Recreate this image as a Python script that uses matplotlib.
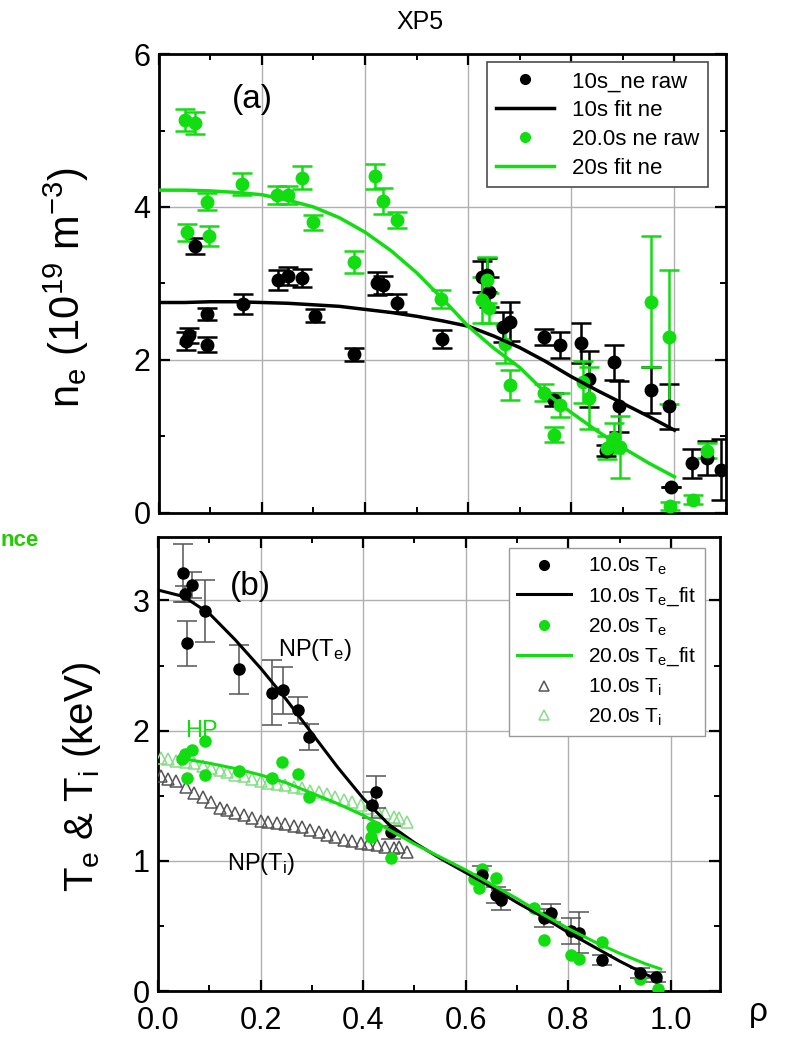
import matplotlib
matplotlib.use("Agg")
import matplotlib.pyplot as plt
from matplotlib.ticker import MultipleLocator, FormatStrFormatter
from matplotlib.lines import Line2D

plt.rcParams['font.family'] = ['Liberation Sans', 'DejaVu Sans']
plt.rcParams['mathtext.fontset'] = 'custom'
plt.rcParams['mathtext.rm'] = 'Liberation Sans'
plt.rcParams['mathtext.it'] = 'Liberation Sans:italic'
plt.rcParams['mathtext.bf'] = 'Liberation Sans:bold'

GREEN = '#11dd11'
LGREEN = '#88dd88'
GRAY = '#555555'

# --- (a) density: 10 s raw ---
ne10_rho = [0.053, 0.058, 0.070, 0.093, 0.093, 0.163, 0.231, 0.250, 0.278, 0.303,
            0.379, 0.423, 0.435, 0.462, 0.549, 0.627, 0.637, 0.641, 0.668, 0.682,
            0.748, 0.779, 0.819, 0.767, 0.835, 0.882, 0.893, 0.868, 0.955, 0.990,
            0.994, 1.035, 1.064, 1.090]
ne10_val = [2.25, 2.32, 3.49, 2.60, 2.20, 2.73, 3.05, 3.10, 3.07, 2.58,
            2.07, 3.00, 2.98, 2.74, 2.27, 3.09, 3.11, 2.89, 2.43, 2.50,
            2.30, 2.20, 2.22, 1.48, 1.75, 1.97, 1.39, 0.81, 1.61, 1.39,
            0.34, 0.65, 0.72, 0.56]
ne10_err = [0.12, 0.10, 0.10, 0.08, 0.10, 0.13, 0.13, 0.12, 0.12, 0.08,
            0.09, 0.15, 0.12, 0.12, 0.12, 0.20, 0.22, 0.20, 0.20, 0.26,
            0.10, 0.17, 0.26, 0.08, 0.37, 0.23, 0.33, 0.07, 0.30, 0.30,
            0.00, 0.19, 0.22, 0.40]

# --- (a) density: 20 s raw ---
ne20_rho = [0.050, 0.070, 0.054, 0.097, 0.093, 0.161, 0.229, 0.250, 0.277, 0.300,
            0.379, 0.420, 0.435, 0.462, 0.547, 0.627, 0.637, 0.641, 0.672, 0.682,
            0.748, 0.779, 0.767, 0.823, 0.835, 0.870, 0.882, 0.895, 0.955, 0.990,
            0.992, 1.036, 1.064]
ne20_val = [5.14, 5.10, 3.67, 3.62, 4.07, 4.30, 4.16, 4.16, 4.38, 3.80,
            3.28, 4.40, 4.08, 3.83, 2.80, 2.78, 3.05, 2.68, 2.21, 1.67,
            1.57, 1.41, 1.02, 1.71, 1.50, 0.85, 0.98, 0.86, 2.76, 2.30,
            0.09, 0.17, 0.81]
ne20_err = [0.14, 0.14, 0.11, 0.13, 0.11, 0.14, 0.12, 0.12, 0.15, 0.10,
            0.14, 0.16, 0.17, 0.11, 0.12, 0.30, 0.30, 0.20, 0.25, 0.20,
            0.11, 0.16, 0.10, 0.27, 0.40, 0.15, 0.20, 0.40, 0.86, 0.88,
            0.05, 0.06, 0.10]

# --- (a) fits ---
fit_rho = [0.0, 0.05, 0.1, 0.15, 0.2, 0.25, 0.3, 0.35, 0.4, 0.45, 0.5,
           0.55, 0.6, 0.65, 0.7, 0.75, 0.8, 0.85, 0.9, 0.95, 1.0]
ne10_fit = [2.75, 2.75, 2.76, 2.76, 2.75, 2.74, 2.72, 2.70, 2.66, 2.62, 2.57,
            2.51, 2.44, 2.31, 2.16, 1.98, 1.78, 1.60, 1.43, 1.26, 1.08]
ne20_fit = [4.22, 4.22, 4.21, 4.19, 4.16, 4.09, 4.00, 3.86, 3.67, 3.43, 3.14,
            2.80, 2.44, 2.15, 1.90, 1.57, 1.31, 1.07, 0.85, 0.65, 0.47]

# --- (b) Te 10 s ---
te10_rho = [0.049, 0.053, 0.066, 0.057, 0.092, 0.158, 0.222, 0.244, 0.273, 0.294,
            0.417, 0.425, 0.454, 0.632, 0.659, 0.668, 0.752, 0.766, 0.805, 0.820,
            0.866, 0.940, 0.970]
te10_val = [3.21, 3.05, 3.12, 2.67, 2.92, 2.47, 2.29, 2.31, 2.16, 1.95,
            1.43, 1.53, 1.22, 0.89, 0.74, 0.70, 0.56, 0.60, 0.46, 0.45,
            0.24, 0.14, 0.11]
te10_err = [0.22, 0.06, 0.10, 0.17, 0.24, 0.19, 0.25, 0.18, 0.10, 0.10,
            0.10, 0.12, 0.05, 0.07, 0.06, 0.08, 0.07, 0.07, 0.10, 0.16,
            0.04, 0.04, 0.04]

# --- (b) Te 20 s ---
te20_rho = [0.047, 0.053, 0.066, 0.057, 0.092, 0.092, 0.158, 0.222, 0.242, 0.273,
            0.294, 0.415, 0.417, 0.425, 0.454, 0.616, 0.626, 0.632, 0.659, 0.671,
            0.733, 0.752, 0.764, 0.805, 0.820, 0.866, 0.940, 0.975]
te20_val = [1.78, 1.82, 1.85, 1.64, 1.92, 1.66, 1.69, 1.64, 1.76, 1.67,
            1.49, 1.18, 1.26, 1.26, 1.02, 0.86, 0.79, 0.94, 0.87, 0.73,
            0.64, 0.39, 0.57, 0.28, 0.25, 0.38, 0.09, 0.02]

# --- (b) fits ---
te10_fit_rho = [0.0, 0.05, 0.1, 0.15, 0.2, 0.25, 0.3, 0.35, 0.4, 0.45, 0.5,
                0.55, 0.6, 0.65, 0.7, 0.75, 0.8, 0.85, 0.9, 0.95, 0.98]
te10_fit = [3.08, 3.03, 2.90, 2.70, 2.48, 2.24, 1.98, 1.72, 1.48, 1.28, 1.14,
            1.02, 0.91, 0.80, 0.68, 0.57, 0.45, 0.34, 0.23, 0.13, 0.08]
te20_fit_rho = [0.04, 0.1, 0.15, 0.2, 0.25, 0.3, 0.35, 0.4, 0.45, 0.5,
                0.55, 0.6, 0.65, 0.7, 0.75, 0.8, 0.85, 0.9, 0.95, 0.98]
te20_fit = [1.79, 1.75, 1.71, 1.66, 1.60, 1.52, 1.44, 1.35, 1.24, 1.13,
            1.03, 0.93, 0.82, 0.71, 0.59, 0.48, 0.38, 0.29, 0.21, 0.17]

# --- (b) Ti ---
ti_rho = [0.005, 0.02, 0.035, 0.055, 0.07, 0.087, 0.103, 0.12, 0.135, 0.15,
          0.167, 0.183, 0.2, 0.215, 0.232, 0.248, 0.265, 0.28, 0.297, 0.313,
          0.33, 0.345, 0.362, 0.378, 0.395, 0.41, 0.427, 0.443, 0.46, 0.47, 0.485]
ti10 = [1.65, 1.63, 1.61, 1.57, 1.52, 1.49, 1.45, 1.41, 1.39, 1.37,
        1.35, 1.33, 1.31, 1.30, 1.29, 1.28, 1.27, 1.26, 1.24, 1.22,
        1.20, 1.18, 1.16, 1.15, 1.14, 1.13, 1.12, 1.11, 1.10, 1.11, 1.07]
ti20 = [1.79, 1.78, 1.77, 1.76, 1.75, 1.73, 1.71, 1.70, 1.68, 1.66,
        1.65, 1.63, 1.61, 1.60, 1.59, 1.58, 1.57, 1.56, 1.54, 1.53,
        1.51, 1.49, 1.47, 1.45, 1.43, 1.41, 1.39, 1.37, 1.34, 1.33, 1.30]

fig = plt.figure(figsize=(7.9, 10.4), dpi=100)
ax1 = fig.add_axes([0.201, 0.507, 0.718, 0.441])
ax2 = fig.add_axes([0.200, 0.047, 0.711, 0.437])


def style(ax):
    ax.grid(True, which='major', color='#b0b0b0', lw=1)
    ax.set_axisbelow(True)
    ax.tick_params(which='both', direction='in', top=True, right=True,
                   labelsize=22, pad=6)
    ax.tick_params(which='major', length=8, width=1.6)
    ax.tick_params(which='minor', length=4, width=1.4)
    for s in ax.spines.values():
        s.set_linewidth(2)
    ax.xaxis.set_major_locator(MultipleLocator(0.2))
    ax.xaxis.set_minor_locator(MultipleLocator(0.1))


# ----- panel (a) -----
ax1.errorbar(ne10_rho, ne10_val, yerr=ne10_err, fmt='o', color='black', ms=9,
             elinewidth=1.8, capsize=7, capthick=1.8, zorder=3)
ax1.plot(fit_rho, ne10_fit, color='black', lw=2.5, zorder=4)
ax1.errorbar(ne20_rho, ne20_val, yerr=ne20_err, fmt='o', color=GREEN, ms=9,
             elinewidth=1.8, capsize=7, capthick=1.8, zorder=3)
ax1.plot(fit_rho, ne20_fit, color=GREEN, lw=2.5, zorder=4)
style(ax1)
ax1.set_xlim(0, 1.1)
ax1.set_ylim(0, 6)
ax1.yaxis.set_major_locator(MultipleLocator(2))
ax1.yaxis.set_minor_locator(MultipleLocator(1))
ax1.tick_params(labelbottom=False)
ax1.text(0.165, 0.9, '(a)', transform=ax1.transAxes, fontsize=24,
         ha='center', va='center')
h1 = [Line2D([], [], ls='none', marker='o', color='black', ms=7),
      Line2D([], [], color='black', lw=2.5),
      Line2D([], [], ls='none', marker='o', color=GREEN, ms=7),
      Line2D([], [], color=GREEN, lw=2.5)]
l1 = ['10s_ne raw', '10s fit ne', '20.0s ne raw', '20s fit ne']
leg1 = ax1.legend(h1, l1, loc='upper right', bbox_to_anchor=(0.968, 0.982),
                  fontsize=16, handlelength=2.6, labelspacing=0.35,
                  borderaxespad=0, fancybox=False, edgecolor='0.3',
                  framealpha=1)
leg1.get_frame().set_linewidth(1.2)

# ----- panel (b) -----
ax2.errorbar(te10_rho, te10_val, yerr=te10_err, fmt='o', color='black', ms=8,
             ecolor=GRAY, elinewidth=1.1, capsize=7, capthick=1.1, zorder=4)
ax2.plot(te10_fit_rho, te10_fit, color='black', lw=2.2, zorder=5)
ax2.plot(te20_rho, te20_val, 'o', color=GREEN, ms=8, zorder=4)
ax2.plot(te20_fit_rho, te20_fit, color=GREEN, lw=2.2, zorder=5)
ax2.plot(ti_rho, ti10, '^', mfc='none', mec=GRAY, ms=8, mew=1.1, zorder=3)
ax2.plot(ti_rho, ti20, '^', mfc='none', mec=LGREEN, ms=8, mew=1.1, zorder=3)
style(ax2)
ax2.set_xlim(0, 1.095)
ax2.set_ylim(0, 3.49)
ax2.yaxis.set_major_locator(MultipleLocator(1))
ax2.yaxis.set_minor_locator(MultipleLocator(0.5))
ax2.xaxis.set_major_formatter(FormatStrFormatter('%.1f'))
ax2.tick_params(axis='x', pad=11)
ax2.text(0.165, 0.89, '(b)', transform=ax2.transAxes, fontsize=24,
         ha='center', va='center')
ax2.text(0.305, 2.62, 'NP(T$_\\mathrm{e}$)', fontsize=17, ha='center', va='center')
ax2.text(0.085, 2.0, 'HP', fontsize=17, color=GREEN, ha='center', va='center')
ax2.text(0.2, 0.98, 'NP(T$_\\mathrm{i}$)', fontsize=17, ha='center', va='center')
h2 = [Line2D([], [], ls='none', marker='o', color='black', ms=7),
      Line2D([], [], color='black', lw=2.2),
      Line2D([], [], ls='none', marker='o', color=GREEN, ms=7),
      Line2D([], [], color=GREEN, lw=2.2),
      Line2D([], [], ls='none', marker='^', mfc='none', mec=GRAY, ms=7, mew=1.1),
      Line2D([], [], ls='none', marker='^', mfc='none', mec=LGREEN, ms=7, mew=1.1)]
l2 = ['10.0s T$_\\mathrm{e}$', '10.0s T$_\\mathrm{e}$_fit',
      '20.0s T$_\\mathrm{e}$', '20.0s T$_\\mathrm{e}$_fit',
      '10.0s T$_\\mathrm{i}$', '20.0s T$_\\mathrm{i}$']
leg2 = ax2.legend(h2, l2, loc='upper right', bbox_to_anchor=(0.973, 0.976),
                  fontsize=15, handlelength=2.6, labelspacing=0.4,
                  borderaxespad=0, fancybox=False, edgecolor='0.6',
                  framealpha=1)

# labels
fig.text(66 / 790, 1 - 288 / 1040, 'n$_\\mathrm{e}$ (10$^{19}$ m$^{-3}$)',
         rotation=90, fontsize=30, ha='center', va='center')
fig.text(82 / 790, 1 - 777 / 1040, 'T$_\\mathrm{e}$ & T$_\\mathrm{i}$ (keV)',
         rotation=90, fontsize=29, ha='center', va='center')
fig.text(420 / 790, 1 - 22 / 1040, 'XP5', fontsize=18, ha='center', va='center')
fig.text(758 / 790, 1 - 1012 / 1040, 'ρ', fontsize=24, ha='center', va='center')
fig.text(0, 1 - 541 / 1040, 'nce', fontsize=16, fontweight='bold', color='#22cc00',
         ha='left', va='center')

fig.savefig('out.png', dpi=100)
